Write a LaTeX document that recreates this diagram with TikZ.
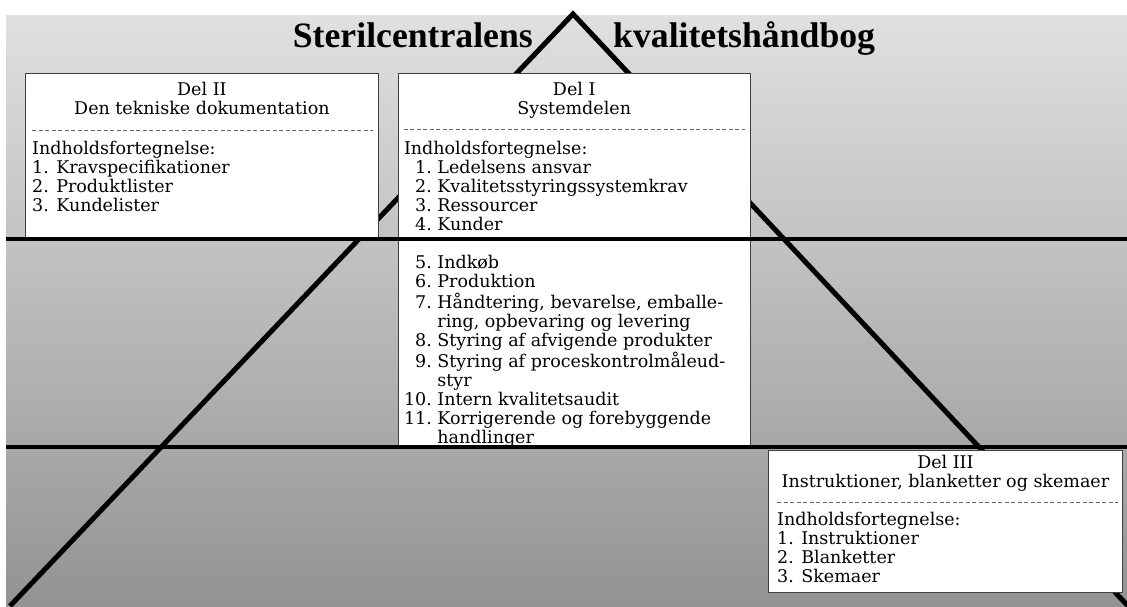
\documentclass[tikz,border=0pt]{standalone}
\usepackage{fontspec}
\setmainfont{DejaVu Serif}
\newfontfamily\titlefont{Liberation Serif}
\usetikzlibrary{positioning}
\definecolor{bgtop}{HTML}{E0E0E0}
\definecolor{bgbottom}{HTML}{939393}
\begin{document}
\begin{tikzpicture}[x=1pt,y=-1pt]
\useasboundingbox (0,0) rectangle (1127,606);
\tikzstyle{part} = [rectangle, draw=black!75, line width=0.8pt, fill=white, inner sep=0pt, anchor=north west]
\tikzstyle{txt} = [inner sep=0pt, font=\fontsize{17.5}{19}\selectfont]
\tikzstyle{sep} = [draw=black!60, line width=0.8pt, dash pattern=on 4pt off 2.5pt]
\tikzstyle{bar} = [line width=3.5pt]
\tikzstyle{head} = [inner sep=0pt, font=\titlefont\bfseries\fontsize{35.7}{40}\selectfont]
\shade [top color=bgtop, bottom color=bgbottom] (6,15) rectangle (1127,606);
% pyramid
\draw [line width=5pt] (10,606) -- (573,14) -- (1128,606);
% title
\node (title1) [head, anchor=base east] at (533,47) {Sterilcentralens};
\node (title2) [head, right=80pt of title1.base east, anchor=base west] {kvalitetshåndbog};
% Del II
\node (del2) [part, minimum width=353pt, minimum height=166pt] at (25,73) {};
\node (del2head) [txt, below=8.7pt of del2.north] {\begin{tabular}{@{}c@{}}Del II\\Den tekniske dokumentation\end{tabular}};
\draw [sep] ([xshift=7pt,yshift=-57pt]del2.north west) -- ([xshift=-6pt,yshift=-57pt]del2.north east);
\node (del2list) [txt, below right=67.7pt and 7pt of del2.north west] {\begin{tabular}{@{}l@{}}Indholdsfortegnelse:\\1. Kravspecifikationer\\2. Produktlister\\3. Kundelister\end{tabular}};
% Del I
\node (del1) [part, right=19pt of del2.north east, anchor=north west, minimum width=352pt, minimum height=373pt] {};
\node (del1head) [txt, below=8.7pt of del1.north] {\begin{tabular}{@{}c@{}}Del I\\Systemdelen\end{tabular}};
\draw [sep] ([xshift=6pt,yshift=-56.5pt]del1.north west) -- ([xshift=-6pt,yshift=-56.5pt]del1.north east);
\node (del1list) [txt, below right=67.7pt and 6pt of del1.north west] {\begin{tabular}{@{}r@{\ }l@{}}
\multicolumn{2}{@{}l@{}}{Indholdsfortegnelse:}\\
1. & Ledelsens ansvar\\
2. & Kvalitetsstyringssystemkrav\\
3. & Ressourcer\\
4. & Kunder\\
\\
5. & Indkøb\\
6. & Produktion\\
7. & Håndtering, bevarelse, emballe-\\
 & ring, opbevaring og levering\\
8. & Styring af afvigende produkter\\
9. & Styring af proceskontrolmåleud-\\
 & styr\\
10. & Intern kvalitetsaudit\\
11. & Korrigerende og forebyggende\\
 & handlinger
\end{tabular}};
% Del III
\node (del3) [part, minimum width=354pt, minimum height=142pt] at (768,450) {};
\node (del3head) [txt, below=4.7pt of del3.north] {\begin{tabular}{@{}c@{}}Del III\\Instruktioner, blanketter og skemaer\end{tabular}};
\draw [sep] ([xshift=9pt,yshift=-52pt]del3.north west) -- ([xshift=-5pt,yshift=-52pt]del3.north east);
\node (del3list) [txt, below right=61.7pt and 9pt of del3.north west] {\begin{tabular}{@{}l@{}}Indholdsfortegnelse:\\1. Instruktioner\\2. Blanketter\\3. Skemaer\end{tabular}};
% levels
\draw [bar] (6,239) -- (1127,239);
\draw [bar] (6,447) -- (1127,447);
\end{tikzpicture}
\end{document}
